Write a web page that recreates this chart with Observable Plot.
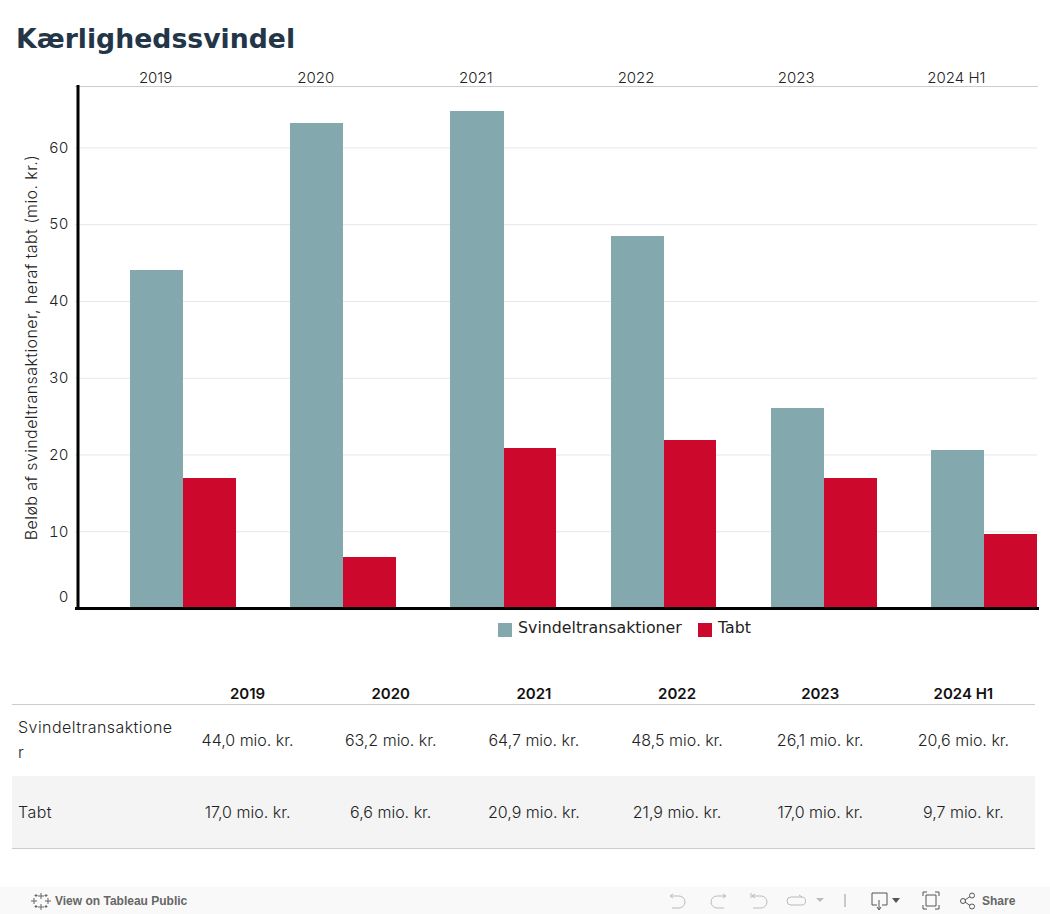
<!DOCTYPE html>
<html lang="da">
<head>
<meta charset="utf-8">
<script src="https://cdn.jsdelivr.net/npm/d3@7"></script>
<script src="https://cdn.jsdelivr.net/npm/@observablehq/plot@0.6"></script>
<style>
  html, body { margin: 0; padding: 0; background: #fff; }
  body { width: 1050px; height: 914px; position: relative; overflow: hidden; font-family: Inter, sans-serif; color: #222; }
  h1 { position: absolute; left: 16px; top: 21px; margin: 0; font: 700 26.7px/36px "DejaVu Sans", sans-serif; color: #233648; }
  #chart { position: absolute; left: 0; top: 60px; }
  #chart svg { display: block; }
  #legend { position: absolute; top: 618px; left: 498px; font: 15.8px/20px "DejaVu Sans", sans-serif; color: #222; white-space: nowrap; }
  #legend span { position: absolute; top: 0; }
  #legend i { position: absolute; top: 5px; width: 14px; height: 14px; }
  #tbl { position: absolute; left: 12px; top: 675px; width: 1023px; border-collapse: collapse; table-layout: fixed; font: 300 16px Inter, sans-serif; color: #222; }
  #tbl th { height: 28px; padding: 0 0 1px; font-weight: 600; font-size: 15px; color: #111; border-bottom: 1px solid #ccc; text-align: center; vertical-align: bottom; }
  #tbl td { text-align: center; height: 71px; padding: 0; }
  #tbl tr:nth-child(1) td { padding-bottom: 2px; height: 69px; }
  #tbl tr:nth-child(2) td { background: #f4f4f4; border-bottom: 1px solid #ccc; height: 72px; }
  #tbl td:first-child { text-align: left; padding-left: 6px; line-height: 25px; letter-spacing: 0.45px; }
  #tbl .first { width: 164px; }
  #foot { position: absolute; left: 0; top: 887px; width: 1050px; height: 27px; background: #f9f9f9; font: 700 12px "Liberation Sans", sans-serif; color: #666; }
  #foot span { position: absolute; top: 7px; }
  #foot svg { position: absolute; top: 0; left: 0; }
</style>
</head>
<body>
<h1>Kærlighedssvindel</h1>
<div id="chart"></div>
<div id="legend"></div>
<table id="tbl"></table>
<div id="foot">
  <svg width="1050" height="27" fill="none" stroke="#666" stroke-width="1">
    <path d="M41 6v6M38 9h6M41 17v6M38 20h6M34 11v6M31 14h6M48 11v6M45 14h6M36 7v3M34.500 8.500h3M46 7v3M44.500 8.500h3M36 18v3M34.500 19.500h3M46 18v3M44.500 19.500h3"/>
    <g stroke="#bbb">
      <path d="M671 9h8a6 6 0 0 1 0 12h-7M670 9l3-2M670 9l3 2"/>
      <path d="M725 9h-8a6 6 0 0 0 0 12h7M726 9l-3-2M726 9l-3 2"/>
      <path d="M751 6v5M752 9h9a6 6 0 0 1 0 12h-8M752 9l3-2M752 9l3 2"/>
      <path d="M802 10h-11a3.500 3.500 0 0 0 0 8h10a3.500 3.500 0 0 0 1-8M802 10l-3-2"/>
      <path d="M845 7v13" stroke="#999"/>
    </g>
    <path d="M816 11h8l-4 4z" fill="#bbb" stroke="none"/>
    <path d="M877 18h-5v-12h15v12h-5M879 13v9M877 20l2 3 2-3" stroke="#555"/>
    <path d="M892 11h8l-4 5z" fill="#555" stroke="none"/>
    <path d="M923 9v-4h4M935 5h4v4M923 18v4h4M935 22h4v-4M926 8h10v11h-10z" stroke="#555"/>
    <g stroke="#555"><circle cx="963" cy="14" r="2.500"/><circle cx="972" cy="8.500" r="2.500"/><circle cx="972" cy="19.500" r="2.500"/><path d="M965 13l5-3.500M965 15l5 3.500"/></g>
  </svg>
  <span style="left:55px">View on Tableau Public</span>
  <span style="left:982px">Share</span>
</div>
<script>
const years = ["2019", "2020", "2021", "2022", "2023", "2024 H1"];
const svindel = [44.0, 63.2, 64.7, 48.5, 26.1, 20.6];
const tabt = [17.0, 6.6, 20.9, 21.9, 17.0, 9.7];
const seriesNames = ["Svindeltransaktioner", "Tabt"];
const seriesColors = ["#83a9af", "#cc082c"];
const yTicks = [10, 20, 30, 40, 50, 60];
const yTitle = "Beløb af svindeltransaktioner, heraf tabt (mio. kr.)";

const fontFam = "Inter, sans-serif";
const rows = years.map((year, i) => ({year, svindel: svindel[i], tabt: tabt[i]}));

const plot = Plot.plot({
  width: 1050,
  height: 560,
  marginLeft: 75,
  marginRight: 13,
  marginTop: 26,
  marginBottom: 12,
  style: {fontFamily: fontFam, fontSize: "15px", fontWeight: 300, color: "#222", background: "transparent"},
  x: {type: "band", domain: years, padding: 0, round: false, range: [75, 1036], label: null},
  y: {domain: [0, 68], label: null},
  marks: [
    Plot.gridY(yTicks, {stroke: "#e6e6e6", strokeOpacity: 1, strokeWidth: 1}),
    Plot.barY(rows, {x: "year", y: "svindel", fill: seriesColors[0], insetLeft: 55, insetRight: 52, shapeRendering: "crispEdges"}),
    Plot.barY(rows, {x: "year", y: "tabt", fill: seriesColors[1], insetLeft: 108.2, insetRight: -0.83, shapeRendering: "crispEdges"}),
    Plot.frame({anchor: "top", stroke: "#ccc", strokeWidth: 1}),
    Plot.frame({anchor: "left", stroke: "#000", strokeWidth: 3, dx: 2.5}),
    Plot.frame({anchor: "bottom", stroke: "#000", strokeWidth: 3, insetLeft: 1}),
    Plot.axisX({anchor: "top", tickSize: 0, tickPadding: 4, label: null, fontSize: 15}),
    Plot.axisY({ticks: yTicks, anchor: "left", tickSize: 0, tickPadding: 7, label: null, fontSize: 15}),
    Plot.axisY({ticks: [0], anchor: "left", tickSize: 0, tickPadding: 7, label: null, dy: -11, fontSize: 15}),
    Plot.text([yTitle], {frameAnchor: "left", rotate: -90, dx: -44, fontSize: 16, fill: "#222", textAnchor: "middle", lineWidth: Infinity})
  ]
});
plot.querySelectorAll("text").forEach(t => {
  if (t.textContent === yTitle) t.setAttribute("letter-spacing", "0.4");
});
document.getElementById("chart").appendChild(plot);

const legend = document.getElementById("legend");
[[0, 20, 0], [200, 220, 1]].forEach(([sx, tx, i]) => {
  const sw = document.createElement("i");
  sw.style.left = sx + "px";
  sw.style.background = seriesColors[i];
  legend.appendChild(sw);
  const t = document.createElement("span");
  t.style.left = tx + "px";
  t.textContent = seriesNames[i];
  legend.appendChild(t);
});

const fmt = v => v.toFixed(1).replace(".", ",") + " mio. kr.";
const tbl = document.getElementById("tbl");
tbl.innerHTML =
  `<thead><tr><th class="first"></th>${years.map(y => `<th>${y}</th>`).join("")}</tr></thead>` +
  `<tbody><tr><td>Svindeltransaktione<br>r</td>${svindel.map(v => `<td>${fmt(v)}</td>`).join("")}</tr>` +
  `<tr><td>Tabt</td>${tabt.map(v => `<td>${fmt(v)}</td>`).join("")}</tr></tbody>`;
</script>
</body>
</html>
